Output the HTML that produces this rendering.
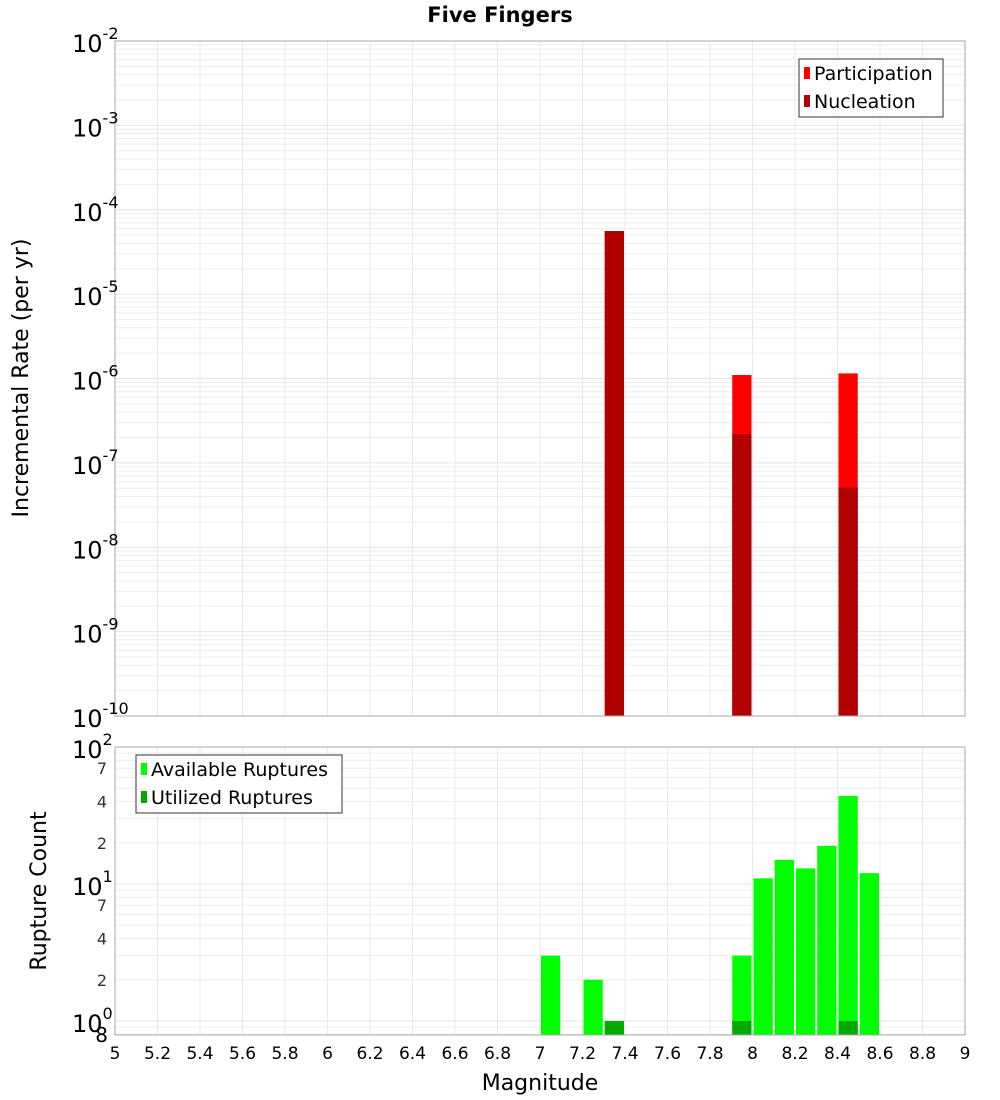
<!DOCTYPE html>
<html><head><meta charset="utf-8"><style>
body{margin:0;background:#fff;}
svg{display:block;font-family:"DejaVu Sans","Liberation Sans",sans-serif;}
</style></head><body>
<svg id="chart" width="1000" height="1100">
<text x="500" y="22" text-anchor="middle" font-size="21" font-weight="bold">Five Fingers</text>
<g id="topPanel"></g>
<g id="botPanel"></g>
<text transform="translate(28,378) rotate(-90)" text-anchor="middle" font-size="22">Incremental Rate (per yr)</text>
<text transform="translate(46,891) rotate(-90)" text-anchor="middle" font-size="22">Rupture Count</text>
<text x="540" y="1090" text-anchor="middle" font-size="22">Magnitude</text>
</svg>
<script>
const rateMags=[7.3,7.9,8.4];
const participation=[5.6e-5,1.1e-6,1.15e-6];
const nucleation=[5.6e-5,2.2e-7,5.1e-8];
const countMags=[7.0,7.2,7.3,7.9,8.0,8.1,8.2,8.3,8.4,8.5];
const available=[3,2,1,3,11,15,13,19,44,12];
const utilized=[0,0,1,1,0,0,0,0,1,0];
const xTicks=[5,5.2,5.4,5.6,5.8,6,6.2,6.4,6.6,6.8,7,7.2,7.4,7.6,7.8,8,8.2,8.4,8.6,8.8,9];
const rateExps=[-2,-3,-4,-5,-6,-7,-8,-9,-10];
const countExps=[2,1,0];
const countMinor=[7,4,2];

const NS='http://www.w3.org/2000/svg';
const L=115,R=965;
const xs=m=>L+(m-5)/4*(R-L);
const T1=41,B1=716,yRate=v=>T1+(-2-Math.log10(v))/8*(B1-T1);
const T2=747,B2=1035,DEC=137,yCnt=v=>T2+(2-Math.log10(v))*DEC;
function mk(p,tag,a){const e=document.createElementNS(NS,tag);for(const k in a)e.setAttribute(k,a[k]);p.appendChild(e);return e;}
const topG=document.getElementById('topPanel'),botG=document.getElementById('botPanel'),svgEl=document.getElementById('chart');

function panel(g,T,B,ys,lo,hi){
  for(let d=lo;d<hi;d++)for(let k=1;k<10;k++){const y=ys(k*Math.pow(10,d));if(y<T-0.5||y>B+0.5)continue;
    const l=mk(g,'line',{x1:L,x2:R,y1:y,y2:y,stroke:k==1?'#e4e4e4':'#ededed','stroke-width':1});
    
    }
  xTicks.forEach(t=>{const l=mk(g,'line',{x1:xs(t),x2:xs(t),y1:T,y2:B,stroke:'#e8e8e8'});
    
    });
}
panel(topG,T1,B1,yRate,-10,-2);
panel(botG,T2,B2,yCnt,-1,2);

function bar(g,m,v,fill,y0,ys,name){const x=xs(m)+1,w=xs(m+0.1)-xs(m)-2,y=ys(v);
  const r=mk(g,'rect',{x:x,y:y,width:w,height:Math.max(0,y0-y),fill:fill});
  
  }
rateMags.forEach((m,i)=>bar(topG,m,participation[i],'#ff0000',B1,yRate,'participation-bar'));
rateMags.forEach((m,i)=>bar(topG,m,nucleation[i],'#b00000',B1,yRate,'nucleation-bar'));
countMags.forEach((m,i)=>bar(botG,m,available[i],'#00ff00',B2,yCnt,'available-bar'));
countMags.forEach((m,i)=>{if(utilized[i]>0)bar(botG,m,utilized[i],'#00aa00',B2,yCnt,'utilized-bar');});

[[T1,B1],[T2,B2]].forEach(([T,B])=>{const f=mk(svgEl,'rect',{x:L,y:T,width:R-L,height:B-T,fill:'none',stroke:'#aaa'});
  
  });

function powLabel(y,e,name){const t=mk(svgEl,'text',{x:72,y:y+11,'font-size':24});
  
  
  t.textContent='10';const s=mk(t,'tspan',{dy:-13,'font-size':16});s.textContent=String(e);}
rateExps.forEach(e=>powLabel(yRate(Math.pow(10,e)),e,'y-tick-rate'));
countExps.forEach(e=>powLabel(yCnt(Math.pow(10,e)),e,'y-tick-count'));
[1,0].forEach(d=>countMinor.forEach(k=>{const t=mk(svgEl,'text',{x:107,y:yCnt(k*Math.pow(10,d))+6,'font-size':16,'text-anchor':'end',fill:'#333'});
  
  
  t.textContent=k;}));
{const t=mk(svgEl,'text',{x:108,y:1042,'font-size':20,'text-anchor':'end'});
 
 
 t.textContent='8';}
xTicks.forEach(v=>{const t=mk(svgEl,'text',{x:xs(v),y:1059,'font-size':17,'text-anchor':'middle'});
  
  
  t.textContent=String(v);});

function legend(x,y,w,items,name){const g=mk(svgEl,'g',{});
  
  
  mk(g,'rect',{x:x,y:y,width:w,height:58,fill:'#fff',stroke:'#333'});
  items.forEach((it,i)=>{const yy=y+14+i*28;mk(g,'rect',{x:x+5,y:yy-6,width:6,height:12,fill:it[1]});
    const t=mk(g,'text',{x:x+15,y:yy+7,'font-size':19});t.textContent=it[0];
    
    });}
legend(799,59,144,[['Participation','#ff0000'],['Nucleation','#b00000']],'rate-legend');
legend(136,755,206,[['Available Ruptures','#00ff00'],['Utilized Ruptures','#00aa00']],'count-legend');
</script>
</body></html>
